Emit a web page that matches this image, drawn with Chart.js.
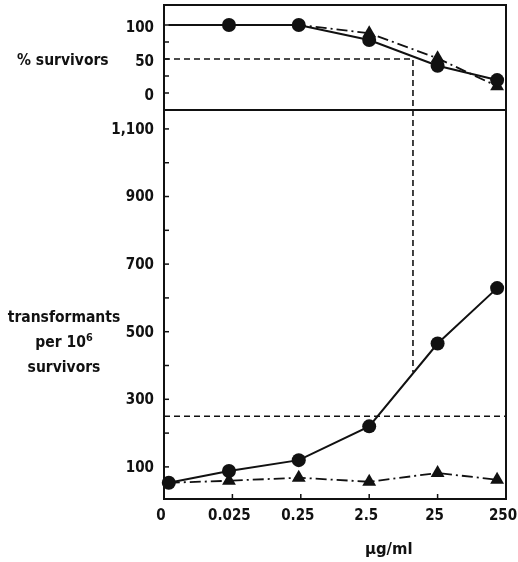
<!DOCTYPE html>
<html><head><meta charset="utf-8">
<script src="https://cdn.jsdelivr.net/npm/chart.js@4.4.0/dist/chart.umd.min.js"></script>
<style>
html,body{margin:0;padding:0;background:#fff;width:518px;height:562px;overflow:hidden}
#wrap{position:relative;width:518px;height:562px;background:#fff}
.box{position:absolute;left:0;width:518px}
.lbl{position:absolute;font-weight:bold;color:#111;white-space:nowrap}
</style></head>
<body><div id="wrap">
<div class="box" style="top:0;height:112px"><canvas id="c1"></canvas></div>
<div class="box" style="top:109px;height:453px"><canvas id="c2"></canvas></div>
<div class="lbl" id="t1" style="left:17px;top:50px;line-height:20px">% survivors</div>
<div class="lbl" id="t2" style="left:4px;top:305px;width:120px;text-align:center;line-height:25px">transformants<br>per 10<sup style="font-size:0.7em;line-height:0">6</sup><br>survivors</div>
<div class="lbl" id="t3" style="left:365px;top:539px;line-height:20px">µg/ml</div>
</div>
<script>
// categories (dose, µg/ml) and plotting positions along the evenly spaced axis
const doseLabels = ['0', '0.025', '0.25', '2.5', '25', '250'];
const doseTicks = [0, 1, 2, 3, 4, 5];
const dosePos = [0.07, 0.95, 1.97, 3.0, 4.0, 4.87];

// % survivors
const survCircles = [100, 100, 100, 78, 40, 19];
const survTriangles = [100, 100, 100, 88, 51, 10];

// transformants per 10^6 survivors
const transCircles = [53, 88, 120, 220, 465, 629];
const transTriangles = [53, 59, 68, 56, 82, 62];

// reference (dashed) lines
const half = 50;           // 50% survival
const halfDose = 3.64;     // dose position at 50% survival
const transAtHalf = 380;   // transformants at that dose
const transBase = 250;     // horizontal dashed level

// tick values / labels
const topTickVals = [0, 25, 50, 75, 100];
const topTickLabels = ['0', '', '50', '', '100'];
const botTickVals = [100, 200, 300, 400, 500, 600, 700, 800, 900, 1000, 1100];
const botTickLabels = ['100', '', '300', '', '500', '', '700', '', '900', '', '1,100'];

// pick an installed narrow font
function hasFont(f) {
  const c = document.createElement('canvas').getContext('2d');
  const t = 'mmmwwwlli1,100 survivors';
  c.font = 'bold 40px monospace';
  const a = c.measureText(t).width;
  c.font = 'bold 40px "' + f + '", monospace';
  return Math.abs(c.measureText(t).width - a) > 0.5;
}
let FONT, TICK, TXT, TXT2;
if (hasFont('Liberation Sans Narrow')) { FONT = '"Liberation Sans Narrow", sans-serif'; TICK = 17.5; TXT = 18; TXT2 = 19; }
else if (hasFont('DejaVu Sans Condensed')) { FONT = '"DejaVu Sans Condensed", sans-serif'; TICK = 15; TXT = 15.5; TXT2 = 16.5; }
else { FONT = '"Liberation Sans", sans-serif'; TICK = 15; TXT = 15.5; TXT2 = 16.5; }
[['t1', TXT], ['t2', TXT], ['t3', TXT2]].forEach(([id, sz]) => {
  const el = document.getElementById(id);
  el.style.fontFamily = FONT; el.style.fontSize = sz + 'px';
});

const INK = '#111';

const framePlugin = {
  id: 'frame',
  afterDraw(chart, args, opts) {
    const {ctx, chartArea: a, scales} = chart;
    ctx.save();
    ctx.strokeStyle = INK;
    ctx.lineWidth = 2;
    ctx.strokeRect(a.left, a.top, a.right - a.left, a.bottom - a.top);
    ctx.lineWidth = 1.5;
    (opts.yTicks || []).forEach(v => {
      const p = scales.y.getPixelForValue(v);
      ctx.beginPath(); ctx.moveTo(a.left, p); ctx.lineTo(a.left + 5, p); ctx.stroke();
    });
    (opts.xTicks || []).forEach(v => {
      const p = scales.x.getPixelForValue(v);
      ctx.beginPath(); ctx.moveTo(p, a.bottom); ctx.lineTo(p, a.bottom - 5); ctx.stroke();
    });
    ctx.restore();
  }
};

function pts(xs, ys) { return xs.map((x, i) => ({x, y: ys[i]})); }
function noPad(s) { s.paddingTop = 0; s.paddingBottom = 0; s.paddingLeft = 0; s.paddingRight = 0; }

const solid = (data, radii) => ({
  data, borderColor: INK, backgroundColor: INK, borderWidth: 2,
  pointStyle: 'circle', pointRadius: radii, pointHoverRadius: radii, pointBorderWidth: 0,
  tension: 0, clip: false, order: 1
});
const dashdot = (data, radii) => ({
  data, borderColor: INK, backgroundColor: INK, borderWidth: 1.8, borderDash: [11, 4, 2, 4],
  pointStyle: 'triangle', pointRadius: radii, pointHoverRadius: radii, pointBorderWidth: 0,
  tension: 0, clip: false, order: 2
});
const dashed = (data) => ({
  data, borderColor: INK, borderWidth: 1.6, borderDash: [6, 4], pointRadius: 0,
  tension: 0, clip: false, order: 3
});

const xScale = (display) => ({
  type: 'linear', min: 0, max: 5, display,
  afterBuildTicks: s => { s.ticks = doseTicks.map(v => ({value: v})); },
  afterFit: s => { s.height = display ? 63 : 0; noPad(s); },
  grid: {display: false, drawTicks: false},
  border: {display: false},
  ticks: {
    callback: (v, i) => doseLabels[i],
    font: {family: FONT, size: TICK, weight: 'bold'}, color: INK, padding: 8, maxRotation: 0,
    autoSkip: false, labelOffset: -3
  }
});

const yScale = (min, max, vals, labels, lo) => ({
  type: 'linear', min, max,
  afterBuildTicks: s => { s.ticks = vals.map(v => ({value: v})); },
  afterFit: s => { s.width = 164; noPad(s); },
  grid: {display: false, drawTicks: false}, border: {display: false},
  ticks: {callback: (v, i) => labels[i], font: {family: FONT, size: TICK, weight: 'bold'},
    color: INK, padding: 10, labelOffset: lo, autoSkip: false}
});

const common = {
  responsive: true, maintainAspectRatio: false, animation: false, events: []
};

new Chart(document.getElementById('c1'), {
  type: 'line',
  data: {
    datasets: [
      solid(pts(dosePos, survCircles), [0, 7, 7, 7, 7, 7]),
      dashdot(pts(dosePos, survTriangles), [0, 0, 0, 8, 8, 8]),
      dashed([{x: 0, y: half}, {x: halfDose, y: half}, {x: halfDose, y: -25}])
    ]
  },
  options: Object.assign({}, common, {
    layout: {autoPadding: false, padding: {left: 0, right: 12, top: 5, bottom: 2}},
    plugins: {legend: {display: false}, tooltip: {enabled: false},
      frame: {yTicks: topTickVals}},
    scales: {
      x: xScale(false),
      y: yScale(-25, 129.4, topTickVals, topTickLabels, 3)
    }
  }),
  plugins: [framePlugin]
});

new Chart(document.getElementById('c2'), {
  type: 'line',
  data: {
    datasets: [
      solid(pts(dosePos, transCircles), [7, 7, 7, 7, 7, 7]),
      dashdot(pts(dosePos, transTriangles), [0, 8, 8, 8, 8, 8]),
      dashed([{x: halfDose, y: 1156}, {x: halfDose, y: transAtHalf}]),
      dashed([{x: 0, y: transBase}, {x: 5, y: transBase}])
    ]
  },
  options: Object.assign({}, common, {
    layout: {autoPadding: false, padding: {left: 0, right: 12, top: 1, bottom: 0}},
    plugins: {legend: {display: false}, tooltip: {enabled: false},
      frame: {yTicks: botTickVals, xTicks: [1, 2, 3, 4]}},
    scales: {
      x: xScale(true),
      y: yScale(5, 1156, botTickVals, botTickLabels, 1)
    }
  }),
  plugins: [framePlugin]
});
</script>
</body></html>
